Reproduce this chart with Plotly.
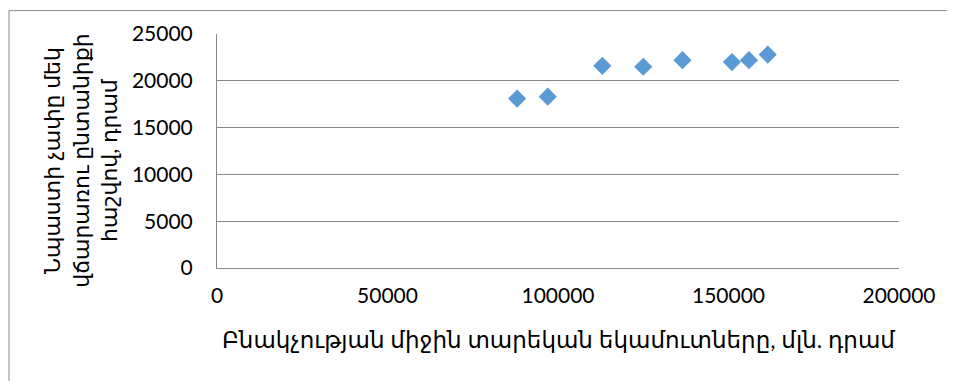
import plotly.graph_objects as go

# 収入 (x) と 手当額 (y)
income = [88000, 97000, 113000, 125000, 136500, 151000, 156000, 161500]
benefit = [18100, 18300, 21600, 21500, 22200, 22000, 22200, 22800]

x_ticks = [0, 50000, 100000, 150000, 200000]
y_ticks = [0, 5000, 10000, 15000, 20000, 25000]

X_TITLE = 'Բնակչության միջին տարեկան եկամուտները, մլն. դրամ'
Y_TITLE = 'Նպաստի չափը մեկ<br>վճարառու ընտանիքի<br>հաշվով, դրամ'

FONT = 'Lato, DejaVu Sans, sans-serif'
# ページの body マージン 8px 分を差し引いたサイズ
W, H = 947, 373

fig = go.Figure()
fig.add_trace(go.Scatter(
    x=income, y=benefit, mode='markers',
    marker=dict(symbol='diamond', size=14, color='#5B9BD5'),
    showlegend=False
))

fig.update_layout(
    width=W, height=H,
    margin=dict(l=209, r=56, t=24, b=113),
    paper_bgcolor='white', plot_bgcolor='white',
    font=dict(family=FONT, size=21, color='#000'),
    annotations=[
        dict(text=Y_TITLE, textangle=-90, xref='paper', yref='paper',
             x=-0.201, y=0.462, xanchor='center', yanchor='middle',
             showarrow=False, font=dict(size=22, family=FONT)),
        dict(text=X_TITLE, xref='paper', yref='paper',
             x=0.501, y=-0.305, xanchor='center', yanchor='middle',
             showarrow=False, font=dict(size=23, family=FONT)),
    ],
    # 外枠（下辺はウィンドウ外）
    shapes=[dict(type='rect', xref='paper', yref='paper',
                 x0=-0.305, x1=1.079, y0=-0.65, y1=1.1,
                 line=dict(color='#8c8c8c', width=1))],
)
fig.update_xaxes(range=[0, 200000], tickvals=x_ticks, ticktext=[str(v) for v in x_ticks],
                 showgrid=False, zeroline=False, showline=True, linecolor='#868686',
                 ticks='', ticklabelstandoff=9, tickfont=dict(size=21))
fig.update_yaxes(range=[0, 25000], tickvals=y_ticks, ticktext=[str(v) for v in y_ticks],
                 showgrid=True, gridcolor='#868686', gridwidth=1, zeroline=False,
                 showline=True, linecolor='#868686', ticks='', ticklabelstandoff=19,
                 tickfont=dict(size=21))

fig.write_html('out.html')
